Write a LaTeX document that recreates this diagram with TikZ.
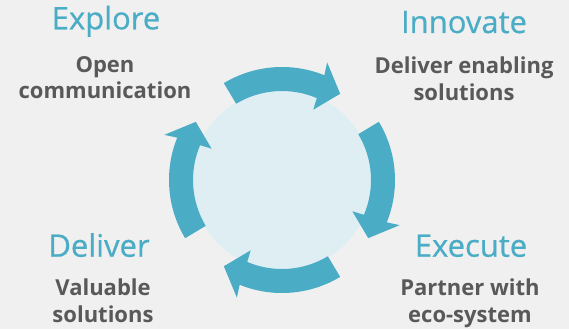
\documentclass[tikz,border=0pt]{standalone}
\usepackage{fontspec}
\setmainfont{Open Sans}
\newfontfamily\phasefont[FakeBold=0.6]{Open Sans}
\usepackage{xcolor}
\usetikzlibrary{calc}
\definecolor{ringblue}{HTML}{4BACC6}
\definecolor{disc}{HTML}{DFEEF3}
\definecolor{bg}{HTML}{F0F0F0}
\definecolor{txtgray}{HTML}{595959}

\begin{document}
\begin{tikzpicture}[x=1pt,y=1pt,
    phase/.style={text=ringblue, font=\phasefont\fontsize{31}{36}\selectfont, inner sep=0pt, anchor=base},
    blurb/.style={text=txtgray, font=\bfseries\fontsize{22}{26.6}\selectfont, align=center, inner sep=0pt, anchor=north}]
    \fill[bg] (0,0) rectangle (569,-329);
    \useasboundingbox (0,0) rectangle (569,-329);
    \coordinate (c) at (282,-180);
    \fill[disc] (c) circle (90);
    % four curved arrows round the disc
    \foreach \a in {121,31,-59,-149}
        \fill[ringblue] ($(c)+(\a:113)$) arc (\a:\a-53:113) -- ($(c)+(\a-52:126)$) -- ($(c)+(\a-65:104)$)
            -- ($(c)+(\a-55:77)$) -- ($(c)+(\a-54:89)$) arc (\a-54:\a:89) -- cycle;
    \node[phase] (explore) at (106,-29.3) {Explore};
    \node[blurb] (explorenote) at (105,-56) {Open\\communication};
    \node[phase] (innovate) at (464,-33) {Innovate};
    \node[blurb] (innovatenote) at (464,-57) {Deliver enabling\\solutions};
    \node[phase] (deliver) at (99,-256.7) {Deliver};
    \node[blurb] (delivernote) at (103,-278.5) {Valuable\\solutions};
    \node[phase] (execute) at (471,-256.7) {Execute};
    \node[blurb] (executenote) at (470,-278.5) {Partner with\\eco-system};
\end{tikzpicture}
\end{document}
